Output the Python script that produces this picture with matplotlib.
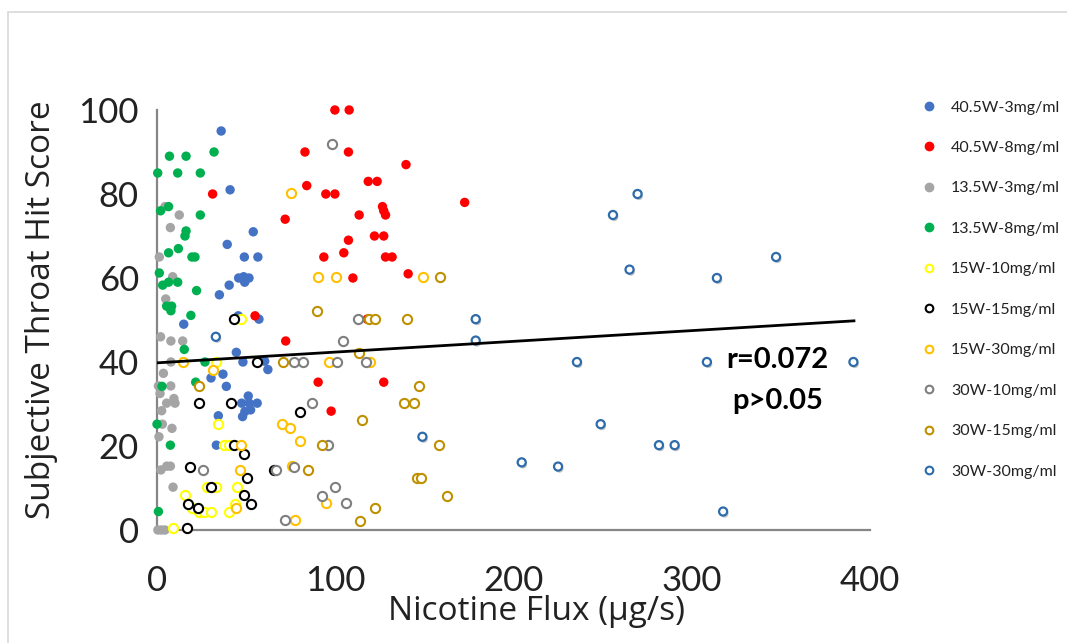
import matplotlib
matplotlib.use("Agg")
import matplotlib.pyplot as plt
import matplotlib.patheffects as pe
from matplotlib.patches import Rectangle
from matplotlib.lines import Line2D

# ---------------- data ----------------
labels = ["40.5W-3mg/ml", "40.5W-8mg/ml", "13.5W-3mg/ml", "13.5W-8mg/ml",
          "15W-10mg/ml", "15W-15mg/ml", "15W-30mg/ml", "30W-10mg/ml",
          "30W-15mg/ml", "30W-30mg/ml"]

w405_3_x = [36, 41, 54, 39.4, 49, 56.6, 45.8, 48.6, 51.6, 49.2, 40.5, 35, 45.6, 57.2, 15,
            44.5, 48.2, 60.4, 62.2, 37, 30.3, 38.9, 47.5, 51.2, 51.7, 56.2, 52.5, 49.3, 48,
            34.4, 33.3]
w405_3_y = [95, 81, 71, 68, 65, 65, 60, 60.3, 60, 59, 58.3, 56, 51, 50.2, 49,
            42.3, 40, 40.2, 38.2, 37.1, 36.2, 34.2, 30.2, 31.9, 30.2, 30.2, 28.6, 28.2, 27,
            27.2, 20.2]

w405_8_x = [99.8, 107.8, 83, 107.4, 139.7, 84, 118.5, 123.5, 94.7, 99.8, 31.2, 172.6, 126.5,
            127.2, 128.2, 113.4, 71.9, 107.4, 122, 127.2, 93.6, 104.8, 128.2, 131.9, 140.9,
            109.9, 55, 117.9, 72.2, 90.4, 127.2, 97.7]
w405_8_y = [100, 100, 90, 90, 87, 82, 83, 83, 80, 80, 80, 78, 77,
            76, 75, 75, 74, 69, 70, 70, 65, 66, 65, 65, 61,
            60, 51, 50.2, 45, 35.2, 35.2, 28.3]

w135_3_x = [4.5, 12.5, 7.5, 1.3, 8.8, 4.9, 2, 7.8, 14.4, 7.8, 3.6, 0.8, 7.7, 1.7, 5.4, 9.5,
            10.1, 2.6, 3, 8.4, 1.1, 2.2, 5.5, 7.5, 9, 0.5, 2.5, 4.5]
w135_3_y = [77, 75, 72, 65, 60.3, 55, 46, 45, 45, 40, 37.3, 34.3, 34.3, 32.5, 30.2, 31.3,
            30.2, 28.4, 25.2, 24.2, 22.2, 14.3, 15.2, 15.2, 10.2, 0, 0, 0]

w135_8_x = [7, 16.3, 32, 0.4, 11.6, 24.3, 6.5, 2, 24.3, 16.3, 15.7, 12, 6.5, 19.6, 21.3, 1.3,
            3.2, 6.5, 11.6, 22.2, 5.4, 8.2, 7.8, 19, 15.3, 26.9, 21.7, 2.8, 0, 7.5, 0.8]
w135_8_y = [89, 89, 90, 85, 85, 85, 77, 76, 75, 71.2, 70, 67, 66, 65, 65, 61.2,
            58.3, 59, 59, 57, 53.3, 53.3, 52.2, 51.1, 43, 40, 35.2, 34.2, 25.2, 20.2, 4.4]

w15_10_x = [47, 33, 34.2, 37.4, 40.5, 27.8, 33, 45, 15.7, 19.4, 23.7, 26.3, 30.1, 40.5, 43.7, 9.2]
w15_10_y = [50.2, 40, 25.2, 20.2, 20.2, 10.2, 10.2, 10.2, 8.3, 5.2, 4.4, 4.4, 4.4, 4.4, 6.3, 0.4]

w15_15_x = [43.3, 56, 23.7, 41.5, 80.5, 43, 48.8, 18.5, 50.3, 65.8, 30.1, 48.8, 52.7, 17.6, 22.8, 16.6]
w15_15_y = [50.2, 40, 30.2, 30.2, 28.2, 20.2, 18.1, 15.1, 12.3, 14.2, 10.2, 8.3, 6.3, 6.3, 5.2, 0.4]

w15_30_x = [75, 90.1, 100.7, 149.4, 14.6, 31.2, 96.3, 119.6, 69.9, 74.6, 80.2, 47.1, 75.5,
            46.5, 94.7, 44.3, 77.4]
w15_30_y = [80.2, 60.2, 60.2, 60.2, 40, 38.1, 40.1, 40.1, 25.2, 24.2, 21.2, 20.2, 15.2,
            14.3, 6.4, 5.3, 2.4]

w30_10_x = [98.1, 76.6, 82, 100.9, 117.2, 104.4, 112.9, 87, 96.2, 25.6, 66.5, 77, 99.8, 92.7,
            105.9, 71.7]
w30_10_y = [92, 40, 40, 40.1, 40.1, 45.1, 50.2, 30.2, 20.2, 14.2, 14.2, 15.1, 10.2, 8.2,
            6.4, 2.3]

w30_15_x = [158.6, 89.5, 119, 122.2, 140.3, 113.4, 70.8, 23.7, 146.9, 138.6, 143.9, 114.9,
            92.3, 158, 84.8, 145.9, 148.2, 162.6, 122.5, 113.8]
w30_15_y = [60.2, 52.1, 50.2, 50.2, 50.2, 42.2, 40, 34.2, 34.3, 30.2, 30.2, 26.1,
            20.2, 20.2, 14.2, 12.3, 12.3, 8.2, 5.2, 2.2]

w30_30_x = [269.6, 255.8, 265.1, 314.1, 347.3, 178.8, 178.8, 33, 235.6, 308.5, 390.7, 248.9,
            281.6, 290.4, 148.9, 204.6, 225, 317.6]
w30_30_y = [80, 75, 62, 60, 65, 50.2, 45.1, 46, 40, 40, 40, 25.2,
            20.2, 20.2, 22.2, 16.1, 15.1, 4.4]

trend_x = [0, 391]
trend_y = [39.8, 49.8]

x_ticks = [0, 100, 200, 300, 400]
y_ticks = [0, 20, 40, 60, 80, 100]

# ---------------- plotting ----------------
W, H = 1067, 643
fig = plt.figure(figsize=(W / 100, H / 100), dpi=100)
fig.patch.set_facecolor("white")
fig.add_artist(Rectangle((8 / W, -0.01), 1.0, 1 - 12 / H + 0.01, transform=fig.transFigure,
                         fill=False, edgecolor="#d9d9d9", linewidth=1.2))

ax = fig.add_axes([157 / W, 1 - 530 / H, (870 - 157) / W, (530 - 110) / H])
ax.set_xlim(0, 400)
ax.set_ylim(0, 100)

filled = [
    (w405_3_x, w405_3_y, "#4472C4"),
    (w405_8_x, w405_8_y, "#FF0000"),
    (w135_3_x, w135_3_y, "#A5A5A5"),
    (w135_8_x, w135_8_y, "#00B050"),
]
hollow = [
    (w15_10_x, w15_10_y, "#FFFF00"),
    (w15_15_x, w15_15_y, "#000000"),
    (w15_30_x, w15_30_y, "#FFC000"),
    (w30_10_x, w30_10_y, "#7F7F7F"),
    (w30_15_x, w30_15_y, "#BF9000"),
]

handles = []
for xs, ys, c in filled:
    ax.scatter(xs, ys, s=46, color=c, edgecolors="none", zorder=3, clip_on=False)
    handles.append(Line2D([], [], linestyle="none", marker="o", markersize=6,
                          markerfacecolor=c, markeredgecolor=c))
for xs, ys, c in hollow:
    ax.scatter(xs, ys, s=44, facecolors="white", edgecolors=c, linewidths=1.5, zorder=3,
               clip_on=False)
    handles.append(Line2D([], [], linestyle="none", marker="o", markersize=5.5,
                          markerfacecolor="white", markeredgecolor=c, markeredgewidth=1.5))

sc = ax.scatter(w30_30_x, w30_30_y, s=34, facecolors="white", edgecolors="#2E6BAA",
                linewidths=1.6, zorder=4, clip_on=False)
sc.set_path_effects([pe.SimplePatchShadow(offset=(1, -1.5), shadow_rgbFace="#808080", alpha=0.45),
                     pe.Normal()])
handles.append(Line2D([], [], linestyle="none", marker="o", markersize=5.5,
                      markerfacecolor="white", markeredgecolor="#2E6BAA", markeredgewidth=1.5))

ax.plot(trend_x, trend_y, color="black", linewidth=2, zorder=5)

ax.text(348, 40.5, "r=0.072", ha="center", va="center", fontsize=21, fontweight="bold",
        family="Lato", zorder=6)
ax.text(348, 30.8, "p>0.05", ha="center", va="center", fontsize=21, fontweight="bold",
        family="Lato", zorder=6)

for s in ["top", "right"]:
    ax.spines[s].set_visible(False)
for s in ["left", "bottom"]:
    ax.spines[s].set_color("#868686")
    ax.spines[s].set_linewidth(1.6)

ax.set_xticks(x_ticks)
ax.set_yticks(y_ticks)
ax.tick_params(axis="both", length=0, labelsize=25, colors="#222222")
ax.tick_params(axis="x", pad=25)
ax.tick_params(axis="y", pad=13)
for lab in ax.get_xticklabels() + ax.get_yticklabels():
    lab.set_family("Lato")

fig.text(42 / W, 1 - 310 / H, "Subjective Throat Hit Score", rotation=90, ha="center",
         va="center", fontsize=24, family="Open Sans", color="#222222")
fig.text(537 / W, 1 - 612 / H, "Nicotine Flux (\u00b5g/s)", ha="center", va="center",
         fontsize=24, family="Open Sans", color="#222222")

leg = fig.legend(handles, labels, loc="upper left", bbox_to_anchor=(907 / W, 1 - 86 / H),
                 frameon=False, labelspacing=1.645, handletextpad=0.85,
                 handlelength=1.0, prop={"family": "Lato", "size": 11.5})
for t in leg.get_texts():
    t.set_color("#222222")

fig.savefig("out.png", dpi=100)
